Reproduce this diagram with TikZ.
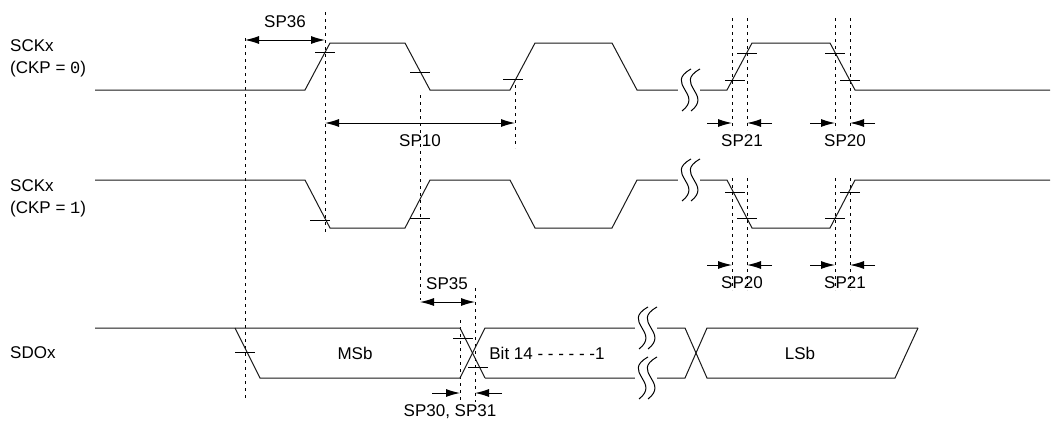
\documentclass[tikz,border=0pt]{standalone}
\usepackage{fontspec}
\setmainfont{Liberation Sans}
\setmonofont{Liberation Mono}
\usetikzlibrary{arrows.meta}

\tikzset{
 sig/.style={line width=1pt, gray!20!black},
 guide/.style={dash pattern=on 3pt off 4pt, line width=0.9pt},
 dim/.style={<->, >={Latex[length=14pt,width=8pt]}, line width=1pt},
 pin/.style={->, >={Latex[length=14pt,width=8pt]}, line width=1pt},
 lbl/.style={font=\fontsize{17}{19}\selectfont, inner sep=0pt},
}
\newcommand{\tick}[2]{\draw[line width=0.9pt] (#1-10,#2) -- (#1+10,#2);}
\newcommand{\brk}[2]{%
 \fill[white] (#1-8,#2-16) rectangle (#1+14,#2+16);
 \foreach \d in {0,9}
  \draw[line width=1pt] (#1+\d+5,#2-21) .. controls (#1+\d-22,#2-6) and (#1+\d+18,#2+4) .. (#1+\d-4,#2+21);}

\begin{document}
\begin{tikzpicture}[x=1pt,y=-1pt]
\useasboundingbox (0,0) rectangle (1051,431);

% labels of the signals
\node[lbl, anchor=west] (ck0) at (10,46) {SCKx};
\node[lbl, anchor=west] (ck0b) at (10,69) {(CKP = \texttt{0})};
\node[lbl, anchor=west] (ck1) at (10,186) {SCKx};
\node[lbl, anchor=west] (ck1b) at (10,209) {(CKP = \texttt{1})};
\node[lbl, anchor=west] (sdo) at (10,353) {SDOx};

% guides
\draw[guide] (245,38) -- (245,400);
\draw[guide] (325,12) -- (325,235);
\draw[guide] (420,95) -- (420,300);
\draw[guide] (515,85) -- (515,148);
\foreach \x in {732,747,835,850} \draw[guide] (\x,18) -- (\x,130);
\foreach \x in {732,747,835,850} \draw[guide] (\x,178) -- (\x,290);
\draw[guide] (475,288) -- (475,402);
\draw[guide] (460,320) -- (460,402);

% SCKx, CKP = 0
\draw[sig] (95,90) -- (305,90) -- (330,43) -- (405,43) -- (430,90) -- (510,90) -- (535,43)
 -- (612,43) -- (637,90) -- (727,90) -- (752,43) -- (830,43) -- (855,90) -- (1050,90);
\brk{686}{90}
\tick{325}{52} \tick{420}{72} \tick{513}{79}
\tick{735}{80} \tick{747}{53} \tick{835}{53} \tick{850}{80}

% SCKx, CKP = 1
\draw[sig] (95,180) -- (305,180) -- (330,228) -- (405,228) -- (430,180) -- (510,180) -- (535,228)
 -- (612,228) -- (637,180) -- (727,180) -- (752,228) -- (830,228) -- (855,180) -- (1050,180);
\brk{686}{180}
\tick{320}{220} \tick{420}{218}
\tick{735}{192} \tick{747}{218} \tick{835}{218} \tick{850}{192}

% SDOx
\draw[sig] (95,328) -- (460,328) -- (485,378);
\draw[sig] (235,328) -- (260,378) -- (460,378) -- (485,328) -- (685,328) -- (707,378) -- (895,378) -- (918,328);
\draw[sig] (485,378) -- (685,378) -- (707,328) -- (918,328);
\brk{643}{328} \brk{643}{378}
\tick{245}{352} \tick{463}{338} \tick{478}{367}
\node[lbl] (msb) at (355,353) {MSb};
\node[lbl] (bit) at (547,353) {Bit 14 - - - - - -1};
\node[lbl] (lsb) at (800,353) {LSb};

% timings
\draw[dim] (245,40) -- (325,40);
\node[lbl] (t36) at (285,22) {SP36};
\draw[dim] (325,123) -- (515,123);
\node[lbl] (t10) at (420,141) {SP10};
\draw[dim] (420,302) -- (475,302);
\node[lbl] (t35) at (447,284) {SP35};
\draw[pin] (707,123) -- (732,123); \draw[pin] (772,123) -- (747,123);
\node[lbl] (t21a) at (742,141) {SP21};
\draw[pin] (810,123) -- (835,123); \draw[pin] (875,123) -- (850,123);
\node[lbl] (t20a) at (845,141) {SP20};
\draw[pin] (707,265) -- (732,265); \draw[pin] (772,265) -- (747,265);
\node[lbl] (t20b) at (742,283) {SP20};
\draw[pin] (810,265) -- (835,265); \draw[pin] (875,265) -- (850,265);
\node[lbl] (t21b) at (845,283) {SP21};
\draw[pin] (432,393) -- (460,393); \draw[pin] (502,393) -- (475,393);
\node[lbl] (t30) at (450,412) {SP30, SP31};
\end{tikzpicture}
\end{document}
